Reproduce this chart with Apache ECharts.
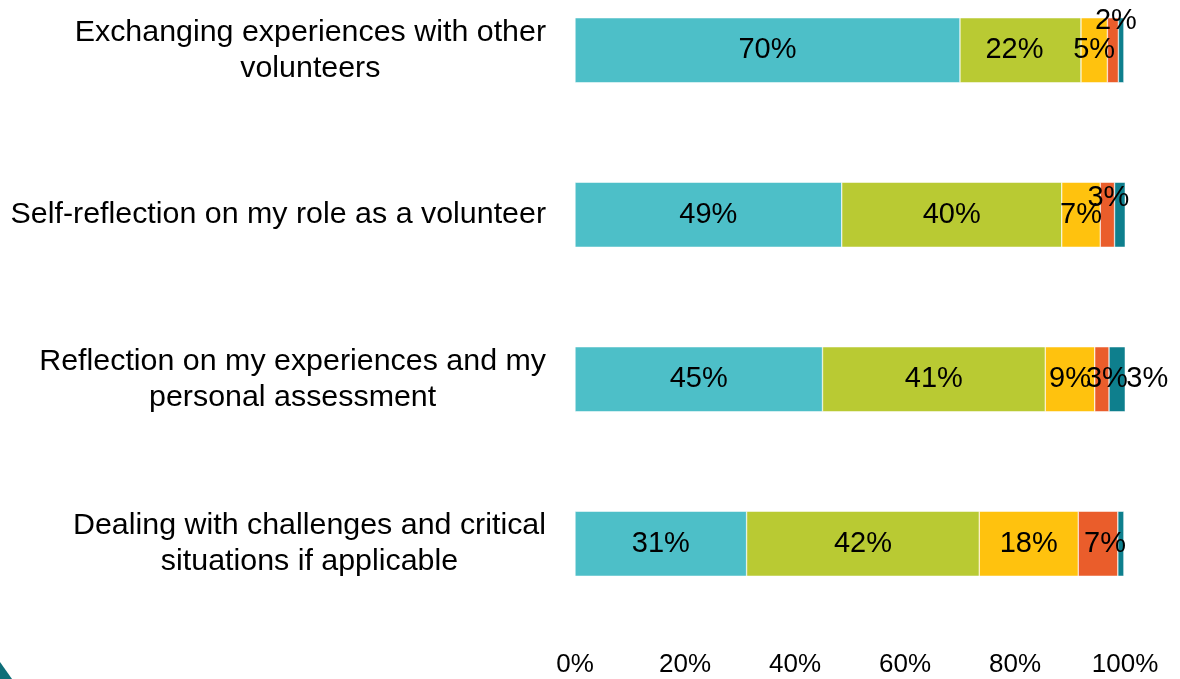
<!DOCTYPE html>
<html>
<head>
<meta charset="utf-8">
<script src="https://cdn.jsdelivr.net/npm/echarts@6/dist/echarts.min.js"></script>
<style>html,body{margin:0;padding:0;background:#fff;overflow:hidden;width:1180px;height:679px;position:relative;}#c{position:absolute;left:0;top:-32px;width:1180px;height:711px;}</style>
</head>
<body>
<div id="c"></div>
<script>
const categories = [
  'Exchanging experiences with other\nvolunteers',
  'Self-reflection on my role as a volunteer',
  'Reflection on my experiences and my\npersonal assessment',
  'Dealing with challenges and critical\nsituations if applicable'
];
const seriesNames = ['Level 1', 'Level 2', 'Level 3', 'Level 4', 'Level 5'];
const level1 = [70, 48.5, 45, 31.2];
const level2 = [22, 40, 40.5, 42.3];
const level3 = [4.8, 7, 9, 18];
const level4 = [2, 2.6, 2.6, 7.2];
const level5 = [1, 2, 3, 1.1];
const xTicks = [0, 20, 40, 60, 80, 100];

const allValues = [level1, level2, level3, level4, level5];
const colors = ['#4DBFC8', '#B9CA33', '#FFC20E', '#EA5D2B', '#0E7F8D'];

// label presentation tweaks (series index, row index)
const labelTweaks = {
  '1-0': { offset: [-6, 0] },
  '3-0': { offset: [3, -29] },
  '3-1': { offset: [1, -17] },
  '3-2': { offset: [5, 0] },
  '3-3': { offset: [7, 0] },
  '4-0': { show: false },
  '4-1': { show: false },
  '4-2': { position: 'right', distance: 1 },
  '4-3': { show: false }
};

const font = '"Liberation Sans", Arial, sans-serif';

const series = allValues.map((vals, si) => ({
  name: seriesNames[si],
  type: 'bar',
  stack: 'total',
  barWidth: 65,
  itemStyle: { color: colors[si], borderColor: '#fff', borderWidth: 0.5 },
  label: {
    show: true,
    position: 'inside',
    color: '#000',
    fontSize: 29,
    fontFamily: font,
    formatter: p => Math.round(p.value) + '%'
  },
  data: vals.map((v, ri) => {
    const t = labelTweaks[si + '-' + ri];
    return t ? { value: v, label: t } : v;
  })
}));

const chart = echarts.init(document.getElementById('c'));
chart.setOption({
  animation: false,
  textStyle: { fontFamily: font },
  grid: { left: 575, width: 550, top: 0, height: 658 },
  xAxis: {
    type: 'value', min: xTicks[0], max: xTicks[xTicks.length - 1], interval: 20,
    axisLine: { show: false }, axisTick: { show: false }, splitLine: { show: false },
    axisLabel: { formatter: '{value}%', fontSize: 26, color: '#000', margin: 26, fontFamily: font }
  },
  yAxis: {
    type: 'category', data: categories, inverse: true,
    axisLine: { show: false }, axisTick: { show: false },
    axisLabel: {
      color: '#000', margin: 29, align: 'right',
      formatter: v => v.split('\n').map(s => '{c|' + s + '}').join('\n'),
      rich: { c: { align: 'center', fontSize: 30.4, lineHeight: 36, color: '#000', fontFamily: font } }
    }
  },
  graphic: [{
    type: 'polygon',
    shape: { points: [[0, 694], [12, 711], [0, 711]] },
    style: { fill: '#0D6E78' }
  }],
  series
});
</script>
</body>
</html>
